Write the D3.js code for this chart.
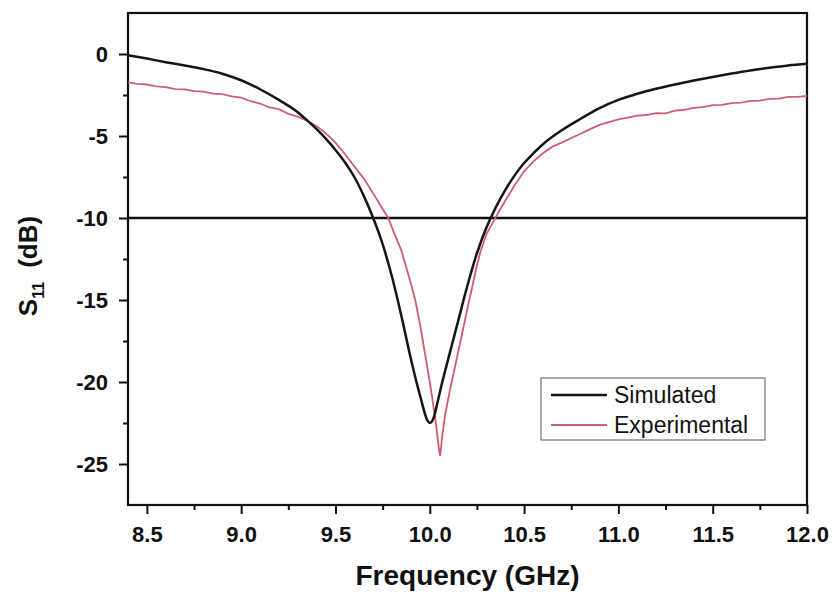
<!DOCTYPE html>
<html>
<head>
<meta charset="utf-8">
<script src="https://cdn.jsdelivr.net/npm/d3@7"></script>
<style>
  body { margin: 0; background: #fff; }
  svg { display: block; font-family: "Liberation Sans", Arial, sans-serif; }
</style>
</head>
<body>
<svg id="chart" width="832" height="595"></svg>
<script>
// datos (GHz, dB)
var simFreq = [8.40, 8.50, 8.60, 8.70, 8.80, 8.90, 9.00, 9.10, 9.20, 9.30, 9.35, 9.40, 9.45, 9.50,
  9.55, 9.60, 9.65, 9.70, 9.75, 9.80, 9.85, 9.90, 9.95, 9.99, 10.00, 10.02, 10.04, 10.06, 10.10,
  10.15, 10.20, 10.25, 10.30, 10.35, 10.40, 10.45, 10.50, 10.55, 10.60, 10.70, 10.80, 10.90, 11.00,
  11.10, 11.20, 11.30, 11.40, 11.50, 11.60, 11.70, 11.80, 11.90, 12.00];
var simS11 = [-0.08, -0.28, -0.50, -0.70, -0.92, -1.20, -1.60, -2.15, -2.80, -3.55, -4.05, -4.58, -5.18, -5.85,
  -6.60, -7.50, -8.65, -10.00, -11.60, -13.60, -16.00, -18.60, -20.90, -22.40, -22.50, -22.20, -21.30, -20.30, -18.50,
  -16.30, -14.10, -12.15, -10.60, -9.35, -8.30, -7.40, -6.65, -6.05, -5.50, -4.65, -3.95, -3.30, -2.80,
  -2.42, -2.12, -1.86, -1.62, -1.40, -1.19, -1.00, -0.84, -0.70, -0.60];

var expFreq = [8.40, 8.45, 8.50, 8.55, 8.60, 8.65, 8.70, 8.75, 8.80, 8.85, 8.90, 8.95, 9.00, 9.05,
  9.10, 9.15, 9.20, 9.25, 9.30, 9.35, 9.40, 9.45, 9.50, 9.55, 9.60, 9.65, 9.70, 9.75, 9.78,
  9.80, 9.85, 9.90, 9.925, 9.95, 10.00, 10.03, 10.05, 10.055, 10.065, 10.08, 10.10, 10.12, 10.15, 10.20,
  10.25, 10.27, 10.30, 10.35, 10.40, 10.45, 10.50, 10.55, 10.60, 10.65, 10.70, 10.75, 10.80, 10.85,
  10.90, 10.95, 11.00, 11.05, 11.10, 11.15, 11.20, 11.25, 11.30, 11.35, 11.40, 11.45, 11.50, 11.55,
  11.60, 11.65, 11.70, 11.75, 11.80, 11.85, 11.90, 11.95, 12.00];
var expS11 = [-1.73, -1.82, -1.86, -1.97, -2.02, -2.14, -2.16, -2.27, -2.30, -2.41, -2.45, -2.58, -2.66, -2.88,
  -3.02, -3.25, -3.36, -3.65, -3.82, -4.07, -4.40, -4.85, -5.40, -6.10, -6.85, -7.60, -8.50, -9.45, -10.00,
  -10.60, -12.00, -14.00, -15.10, -16.60, -20.00, -22.30, -24.20, -24.50, -23.40, -22.10, -20.90, -19.80, -18.20, -15.50,
  -12.90, -12.00, -11.00, -9.95, -8.95, -8.00, -7.15, -6.55, -6.05, -5.65, -5.40, -5.12, -4.86, -4.58,
  -4.32, -4.15, -3.98, -3.88, -3.76, -3.72, -3.60, -3.62, -3.45, -3.40, -3.28, -3.24, -3.12, -3.10,
  -3.00, -2.97, -2.86, -2.84, -2.74, -2.72, -2.62, -2.61, -2.56];

var xTicks = [8.5, 9.0, 9.5, 10.0, 10.5, 11.0, 11.5, 12.0];
var xMinor = [8.75, 9.25, 9.75, 10.25, 10.75, 11.25, 11.75];
var yTicks = [0, -5, -10, -15, -20, -25];
var yMinor = [-2.5, -7.5, -12.5, -17.5, -22.5];
var refLevel = -10;

var svg = d3.select("#chart");
var mLeft = 128, mRight = 807, mTop = 13, mBottom = 505;

var x = d3.scaleLinear().domain([8.4, 12.0]).range([mLeft, mRight]);
var y = d3.scaleLinear().domain([-27.5, 2.5]).range([mBottom, mTop]);

// ejes
svg.append("g").attr("transform", "translate(0," + mBottom + ")")
  .call(d3.axisBottom(x).tickValues(xTicks).tickSize(9).tickPadding(12)
    .tickFormat(d3.format(".1f")));
svg.append("g").attr("transform", "translate(0," + mBottom + ")")
  .call(d3.axisBottom(x).tickValues(xMinor).tickSize(5).tickFormat(""));

svg.append("g").attr("transform", "translate(" + mLeft + ",0)")
  .call(d3.axisLeft(y).tickValues(yTicks).tickSize(9).tickPadding(11)
    .tickFormat(function(d) { return d < 0 ? "-" + Math.abs(d) : d; }));
svg.append("g").attr("transform", "translate(" + mLeft + ",0)")
  .call(d3.axisLeft(y).tickValues(yMinor).tickSize(5).tickFormat(""));

svg.selectAll(".domain").remove();
svg.selectAll(".tick line").attr("stroke", "#111").attr("stroke-width", 2);
svg.selectAll(".tick text").attr("fill", "#111")
  .style("font-size", "22px").style("font-weight", "bold");

// marco
svg.append("rect")
  .attr("x", mLeft).attr("y", mTop)
  .attr("width", mRight - mLeft).attr("height", mBottom - mTop)
  .attr("fill", "none").attr("stroke", "#111").attr("stroke-width", 2.2);

// linea de -10 dB
svg.append("line")
  .attr("x1", x(8.4)).attr("x2", x(12.0))
  .attr("y1", y(refLevel)).attr("y2", y(refLevel))
  .attr("stroke", "#111").attr("stroke-width", 2.4);

var simLine = d3.line()
  .x(function(d, i) { return x(simFreq[i]); })
  .y(function(d) { return y(d); })
  .curve(d3.curveMonotoneX);
var expLine = d3.line()
  .x(function(d, i) { return x(expFreq[i]); })
  .y(function(d) { return y(d); });

svg.append("path").datum(expS11)
  .attr("d", expLine).attr("fill", "none")
  .attr("stroke", "#cf5f70").attr("stroke-width", 1.8);
svg.append("path").datum(simS11)
  .attr("d", simLine).attr("fill", "none")
  .attr("stroke", "#151515").attr("stroke-width", 2.5);

// titulos
svg.append("text")
  .attr("x", (mLeft + mRight) / 2).attr("y", 585)
  .attr("text-anchor", "middle")
  .style("font-size", "28px").style("font-weight", "bold").attr("fill", "#111")
  .text("Frequency (GHz)");

var yl = svg.append("text")
  .attr("transform", "translate(37,266) rotate(-90)")
  .attr("text-anchor", "middle")
  .style("font-size", "26px").style("font-weight", "bold").attr("fill", "#111");
yl.append("tspan").text("S");
yl.append("tspan").attr("dy", 7).style("font-size", "16px").text("11");
yl.append("tspan").attr("dy", -7).attr("dx", 14).text("(dB)");

// leyenda
var lg = svg.append("g");
lg.append("rect").attr("x", 541).attr("y", 378).attr("width", 224).attr("height", 62)
  .attr("fill", "#fff").attr("stroke", "#555").attr("stroke-width", 1);
var legendItems = [
  { name: "Simulated", color: "#151515", w: 2.5 },
  { name: "Experimental", color: "#cf5f70", w: 1.8 }
];
legendItems.forEach(function(it, i) {
  var yy = 395 + i * 30;
  lg.append("line").attr("x1", 551).attr("x2", 607).attr("y1", yy).attr("y2", yy)
    .attr("stroke", it.color).attr("stroke-width", it.w);
  lg.append("text").attr("x", 614).attr("y", yy + 8)
    .style("font-size", "23px").attr("fill", "#111").text(it.name);
});
</script>
</body>
</html>
